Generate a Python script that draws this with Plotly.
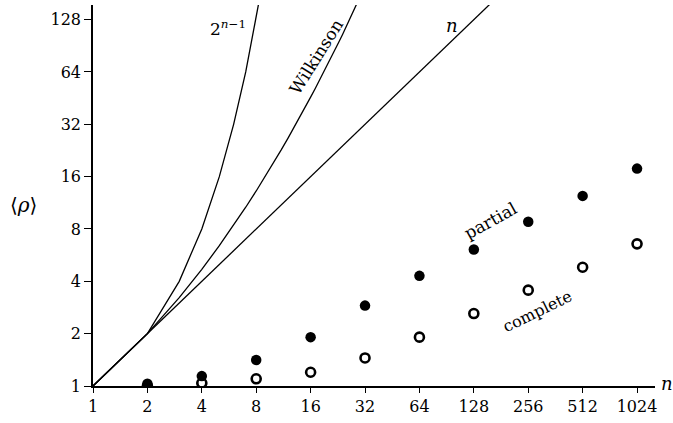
import numpy as np
import plotly.graph_objects as go

# Matrix dimension n and mean growth factor <rho> for Gaussian elimination
n_vals = [2, 4, 8, 16, 32, 64, 128, 256, 512, 1024]
rho_partial = [1.03, 1.14, 1.41, 1.91, 2.9, 4.3, 6.1, 8.8, 12.4, 17.8]
rho_complete = [1.0, 1.04, 1.10, 1.20, 1.45, 1.91, 2.61, 3.56, 4.82, 6.57]

x_ticks = [1, 2, 4, 8, 16, 32, 64, 128, 256, 512, 1024]
y_ticks = [1, 2, 4, 8, 16, 32, 64, 128]

# Bounds on the growth factor, evaluated at integer n
n_int = np.arange(1, 201)
bound_linear = n_int.astype(float)
n_small = np.arange(1, 41)
bound_partial = 2.0 ** (n_small - 1)
log_terms = np.array([np.log(k) / (k - 1) if k > 1 else 0.0 for k in n_small])
bound_wilkinson = np.sqrt(n_small * np.exp(np.cumsum(log_terms)))

FONT = "DejaVu Serif"
W, H = 673, 423
L, R, T, B = 93, 18, 5, 37
PW, PH = W - L - R, H - T - B


def paper(px, py):
    return (px - L) / PW, (H - B - py) / PH


line_style = dict(color="black", width=1.3)
fig = go.Figure()
fig.add_trace(go.Scatter(x=n_small, y=bound_partial, mode="lines", line=line_style))
fig.add_trace(go.Scatter(x=n_small, y=bound_wilkinson, mode="lines", line=line_style))
fig.add_trace(go.Scatter(x=n_int, y=bound_linear, mode="lines", line=line_style))
fig.add_trace(go.Scatter(
    x=n_vals, y=rho_complete, mode="markers",
    marker=dict(symbol="circle-open", size=9, color="black", line=dict(width=2.6)),
))
fig.add_trace(go.Scatter(
    x=n_vals, y=rho_partial, mode="markers",
    marker=dict(symbol="circle", size=10.5, color="black"),
))

labels = [
    ("2<sup><i>n</i>−1</sup>", 228, 28, 0, 17),
    ("Wilkinson", 316, 57, -58, 17),
    ("<i>n</i>", 452, 25, 0, 18),
    ("partial", 490, 221, -29, 17),
    ("complete", 537, 311, -26, 16),
    ("⟨<i>ρ</i>⟩", 23, 205, 0, 20),
    ("<i>n</i>", 667, 383, 0, 18),
]
for text, px, py, ang, size in labels:
    xp, yp = paper(px, py)
    fig.add_annotation(
        x=xp, y=yp, xref="paper", yref="paper", text=text, showarrow=False,
        textangle=ang, font=dict(family=FONT, size=size, color="black"),
        xanchor="center", yanchor="middle",
    )

axis_common = dict(
    type="log", showgrid=False, zeroline=False, showline=True,
    linecolor="black", linewidth=1.5, ticks="outside", tickcolor="black",
    tickwidth=1.3, tickfont=dict(family=FONT, size=16, color="black"),
)
fig.update_xaxes(
    **axis_common, range=[0, np.log10(2) * 10.33], tickmode="array",
    tickvals=x_ticks, ticktext=[str(v) for v in x_ticks], ticklen=5,
)
fig.update_yaxes(
    **axis_common, range=[0, np.log10(2) * 7.28], tickmode="array",
    tickvals=y_ticks, ticktext=[str(v) for v in y_ticks], ticklen=7,
)
fig.update_layout(
    width=W, height=H, margin=dict(l=L, r=R, t=T, b=B),
    plot_bgcolor="white", paper_bgcolor="white", showlegend=False,
    font=dict(family=FONT),
)
fig.write_html("out.html")
